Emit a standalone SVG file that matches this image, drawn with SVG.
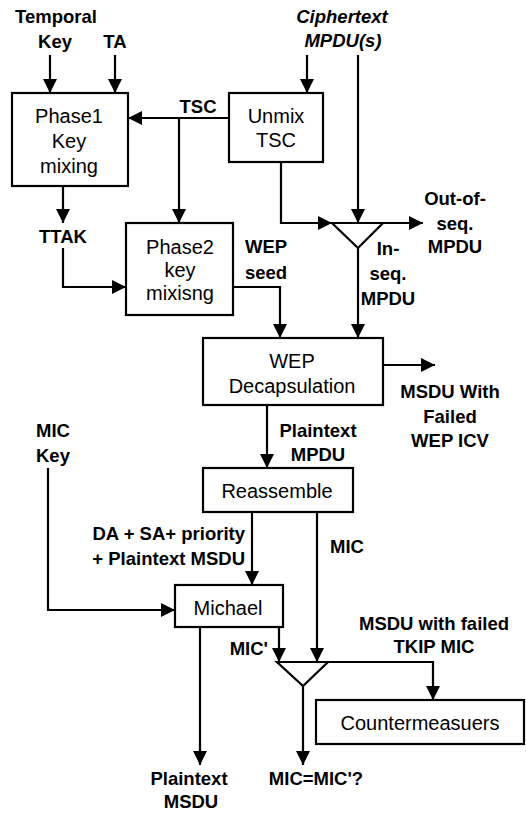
<svg xmlns="http://www.w3.org/2000/svg" width="526" height="814" viewBox="0 0 526 814">
<defs>
<marker id="ah" markerUnits="userSpaceOnUse" markerWidth="14" markerHeight="14" refX="14" refY="7" orient="auto">
<path d="M0,0 L14,7 L0,14 z" fill="#000"/>
</marker>
<style>
.box{fill:#fff;stroke:#000;stroke-width:2.2}
.bt{font-family:"Liberation Sans",Arial,sans-serif;font-size:20px;fill:#000;text-anchor:middle}
.lb{font-family:"Liberation Sans",Arial,sans-serif;font-size:18.5px;font-weight:bold;fill:#000;text-anchor:middle}
.it{font-style:italic}
.ln{fill:none;stroke:#000;stroke-width:2.2}
.ar{fill:none;stroke:#000;stroke-width:2.2;marker-end:url(#ah)}
.tri{fill:#fff;stroke:#000;stroke-width:2.2;stroke-linejoin:miter}
</style>
</defs>
<rect width="526" height="814" fill="#fff"/>

<g id="connectors">
<path class="ar" d="M50,55 V93"/>
<path class="ar" d="M115,55 V93"/>
<path class="ar" d="M307,55 V93"/>
<path class="ar" d="M358,55 V223"/>
<path class="ar" d="M229,118 H128"/>
<path class="ar" d="M179,118 V223"/>
<path class="ar" d="M63,186 V223"/>
<path class="ar" d="M63,248 V287 H126"/>
<path class="ar" d="M281,162 V223 H332"/>
<path class="ar" d="M383,223 H423"/>
<path class="ar" d="M358,248 V338"/>
<path class="ar" d="M233,287 H280 V338"/>
<path class="ar" d="M383,365 H435"/>
<path class="ar" d="M267,405 V468"/>
<path class="ar" d="M252,512 V585"/>
<path class="ar" d="M48,468 V610 H175"/>
<path class="ar" d="M317,512 V662"/>
<path class="ar" d="M279,627 V662"/>
<path class="ar" d="M200,627 V765"/>
<path class="ar" d="M328,662 H433 V700"/>
<path class="ar" d="M303,686 V765"/>
</g>

<g id="label-temporal-key">
<text class="lb" x="56" y="23">Temporal</text>
<text class="lb" x="55" y="48">Key</text>
</g>
<g id="label-ta"><text class="lb" x="115" y="48">TA</text></g>
<g id="label-ciphertext">
<text class="lb it" x="342" y="23">Ciphertext</text>
<text class="lb it" x="343" y="47">MPDU(s)</text>
</g>

<g id="phase1">
<rect class="box" x="12" y="93" width="116" height="93"/>
<text class="bt" x="69" y="123">Phase1</text>
<text class="bt" x="69" y="148">Key</text>
<text class="bt" x="69" y="173">mixing</text>
</g>

<g id="unmix">
<rect class="box" x="229" y="93" width="94" height="69"/>
<text class="bt" x="276" y="123">Unmix</text>
<text class="bt" x="276" y="147">TSC</text>
</g>

<g id="label-tsc"><text class="lb" x="198" y="113">TSC</text></g>
<g id="label-ttak"><text class="lb" x="63" y="243">TTAK</text></g>

<g id="phase2">
<rect class="box" x="126" y="223" width="107" height="92"/>
<text class="bt" x="180" y="254">Phase2</text>
<text class="bt" x="180" y="277">key</text>
<text class="bt" x="180" y="300">mixisng</text>
</g>

<g id="label-wep-seed">
<text class="lb" x="266" y="253">WEP</text>
<text class="lb" x="266" y="279">seed</text>
</g>

<g id="seq-check">
<path class="tri" d="M332,223 H383 L358,248 Z"/>
</g>

<g id="label-out-of-seq">
<text class="lb" x="455" y="205">Out-of-</text>
<text class="lb" x="455" y="230">seq.</text>
<text class="lb" x="455" y="253">MPDU</text>
</g>
<g id="label-in-seq">
<text class="lb" x="388" y="255">In-</text>
<text class="lb" x="388" y="280">seq.</text>
<text class="lb" x="388" y="305">MPDU</text>
</g>

<g id="wep-decap">
<rect class="box" x="203" y="338" width="180" height="67"/>
<text class="bt" x="292" y="368">WEP</text>
<text class="bt" x="292" y="393">Decapsulation</text>
</g>

<g id="label-failed-wep">
<text class="lb" x="450" y="398">MSDU With</text>
<text class="lb" x="450" y="423">Failed</text>
<text class="lb" x="450" y="447">WEP ICV</text>
</g>

<g id="label-plaintext-mpdu">
<text class="lb" x="318" y="437">Plaintext</text>
<text class="lb" x="318" y="461">MPDU</text>
</g>

<g id="reassemble">
<rect class="box" x="203" y="468" width="150" height="44"/>
<text class="bt" x="277" y="498">Reassemble</text>
</g>

<g id="label-mic-key">
<text class="lb" x="36" y="437" style="text-anchor:start">MIC</text>
<text class="lb" x="36" y="462" style="text-anchor:start">Key</text>
</g>

<g id="label-da-sa">
<text class="lb" x="245" y="540" style="text-anchor:end">DA + SA+ priority</text>
<text class="lb" x="245" y="565" style="text-anchor:end">+ Plaintext MSDU</text>
</g>

<g id="label-mic"><text class="lb" x="330" y="553" style="text-anchor:start">MIC</text></g>

<g id="michael">
<rect class="box" x="175" y="585" width="108" height="42"/>
<text class="bt" x="228" y="615">Michael</text>
</g>

<g id="label-mic-prime"><text class="lb" x="268" y="655" style="text-anchor:end">MIC'</text></g>

<g id="mic-compare">
<path class="tri" d="M277,662 H328 L303,686 Z"/>
</g>

<g id="label-failed-tkip">
<text class="lb" x="434" y="630">MSDU with failed</text>
<text class="lb" x="434" y="653">TKIP MIC</text>
</g>

<g id="countermeasures">
<rect class="box" x="316" y="700" width="208" height="44"/>
<text class="bt" x="420" y="730">Countermeasuers</text>
</g>

<g id="label-plaintext-msdu">
<text class="lb" x="189" y="785">Plaintext</text>
<text class="lb" x="191" y="808">MSDU</text>
</g>

<g id="label-mic-eq"><text class="lb" x="316" y="785">MIC=MIC'?</text></g>
</svg>
